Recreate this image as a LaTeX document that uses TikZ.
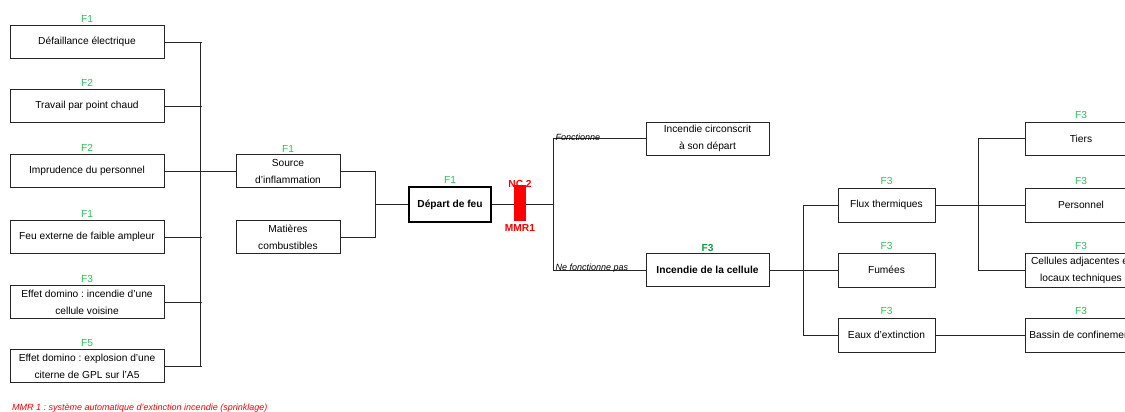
\documentclass[tikz,border=0pt]{standalone}
\usepackage{fontspec}
\setmainfont{Liberation Sans}
\frenchspacing
\definecolor{fgreen}{RGB}{46,190,90}
\definecolor{fgreendk}{RGB}{20,160,60}
\begin{document}
\begin{tikzpicture}[x=1pt,y=-1pt,
  box/.style={draw=black!85, line width=0.9pt, minimum height=33pt, inner sep=1pt,
    align=center, font=\fontsize{10.2}{17}\selectfont},
  fl/.style={text=fgreen, font=\fontsize{10.2}{12}\selectfont, inner sep=0.5pt, anchor=south},
  wire/.style={draw=black!85, line width=0.8pt},
  cond/.style={font=\fontsize{9}{11}\selectfont\itshape, inner sep=0.5pt, anchor=south west}]
\useasboundingbox (0,0) rectangle (1125,412);
\clip (0,0) rectangle (1125,412);

% bus coordinates
\coordinate (bA) at (200,0);
\coordinate (bM) at (375,0);
\coordinate (bB) at (553,0);
\coordinate (bC) at (803,0);
\coordinate (bD) at (978,0);

% left column
\node[box, minimum width=154pt] (L1) at (87,42) {Défaillance électrique};
\node[box, minimum width=154pt] (L2) at (87,106) {Travail par point chaud};
\node[box, minimum width=154pt] (L3) at (87,171) {Imprudence du personnel};
\node[box, minimum width=154pt] (L4) at (87,237) {Feu externe de faible ampleur};
\node[box, minimum width=154pt] (L5) at (87,302) {Effet domino : incendie d'une\\cellule voisine};
\node[box, minimum width=154pt] (L6) at (87,366) {Effet domino : explosion d'une\\citerne de GPL sur l'A5};
\node[fl] (fL1) at ([yshift=2pt]L1.north) {F1};
\node[fl] (fL2) at ([yshift=2pt]L2.north) {F2};
\node[fl] (fL3) at ([yshift=2pt]L3.north) {F2};
\node[fl] (fL4) at ([yshift=2pt]L4.north) {F1};
\node[fl] (fL5) at ([yshift=2pt]L5.north) {F3};
\node[fl] (fL6) at ([yshift=2pt]L6.north) {F5};

% middle-left
\node[box, minimum width=104pt] (S) at (288,171) {Source\\d'inflammation};
\node[box, minimum width=104pt] (M) at (288,237) {Matières\\combustibles};
\node[fl] (fS) at ([yshift=1pt]S.north) {F1};

% depart
\node[box, minimum width=82pt, minimum height=35pt, line width=2.6pt, draw=black,
  font=\fontsize{10.2}{12}\selectfont\bfseries] (D) at (450,204.5) {Départ de feu};
\node[fl] (fD) at ([yshift=2pt]D.north) {F1};

% outcomes
\node[box, minimum width=123pt] (IC) at (707.5,138.5) {Incendie circonscrit\\à son départ};
\node[box, minimum width=123pt, font=\fontsize{10.2}{12}\selectfont\bfseries] (IDC) at (707.5,270) {Incendie de la cellule};
\node[fl, text=fgreendk, font=\fontsize{10.2}{12}\selectfont\bfseries] (fIDC) at ([yshift=1pt]IDC.north) {F3};

\node[box, minimum width=97pt, minimum height=34pt] (Fl) at (886.5,205) {Flux thermiques};
\node[box, minimum width=97pt, minimum height=34pt] (Fu) at (886.5,270) {Fumées};
\node[box, minimum width=97pt, minimum height=34pt] (Ea) at (886.5,335) {Eaux d'extinction};
\node[fl] (fFl) at ([yshift=2pt]Fl.north) {F3};
\node[fl] (fFu) at ([yshift=2pt]Fu.north) {F3};
\node[fl] (fEa) at ([yshift=2pt]Ea.north) {F3};

\node[box, minimum width=112pt] (Ti) at (1081,138.5) {Tiers};
\node[box, minimum width=112pt, minimum height=34pt] (Pe) at (1081,205) {Personnel};
\node[box, minimum width=112pt, minimum height=34pt] (Ce) at (1081,270) {Cellules adjacentes et\\locaux techniques};
\node[box, minimum width=112pt, minimum height=34pt] (Ba) at (1081,335) {Bassin de confinement};
\node[fl] (fTi) at ([yshift=2pt]Ti.north) {F3};
\node[fl] (fPe) at ([yshift=2pt]Pe.north) {F3};
\node[fl] (fCe) at ([yshift=2pt]Ce.north) {F3};
\node[fl] (fBa) at ([yshift=2pt]Ba.north) {F3};

% wires
\foreach \n in {L1,L2,L3,L4,L5,L6} \draw[wire] (\n.east) -- ([xshift=1.5pt]\n.east -| bA);
\draw[wire] (L1.east -| bA) -- (L6.east -| bA);
\draw[wire] (S.west -| bA) -- (S.west);
\draw[wire] (S.east) -- (S.east -| bM) -- (M.east -| bM) -- (M.east);
\draw[wire] (bM |- D.west) -- (D.west);
\draw[wire] (D.east) -- (D.east -| bB);
\draw[wire] (IC.west) -- (IC.west -| bB) -- (IDC.west -| bB) -- (IDC.west);
\draw[wire] (IDC.east) -- (Fu.west);
\draw[wire] (Fl.west) -- (Fl.west -| bC) -- (Ea.west -| bC) -- (Ea.west);
\draw[wire] (Fl.east) -- (Pe.west);
\draw[wire] (Ti.west) -- (Ti.west -| bD) -- (Ce.west -| bD) -- (Ce.west);
\draw[wire] (Ea.east) -- (Ba.west);

\node[cond] (cF) at ([xshift=2pt,yshift=-3pt]IC.west -| bB) {Fonctionne};
\node[cond] (cNF) at ([xshift=2pt,yshift=-3pt]IDC.west -| bB) {Ne fonctionne pas};

% barrier
\node[fill=red, minimum width=12pt, minimum height=36pt, inner sep=0pt] (bar) at (520,203) {};
\node[text=red, font=\fontsize{10.2}{12}\selectfont\bfseries, anchor=south, inner sep=0.5pt] (nc) at ([yshift=-3pt]bar.north) {NC 2};
\node[text=red, font=\fontsize{10.2}{12}\selectfont\bfseries, anchor=north, inner sep=0.5pt] (mmr) at ([yshift=-3pt]bar.south) {MMR1};

% note
\node[text=red, font=\fontsize{9}{11}\selectfont\itshape, anchor=base west, inner sep=0pt] (note) at (12,410.5) {MMR 1 : système automatique d'extinction incendie (sprinklage)};
\end{tikzpicture}
\end{document}
